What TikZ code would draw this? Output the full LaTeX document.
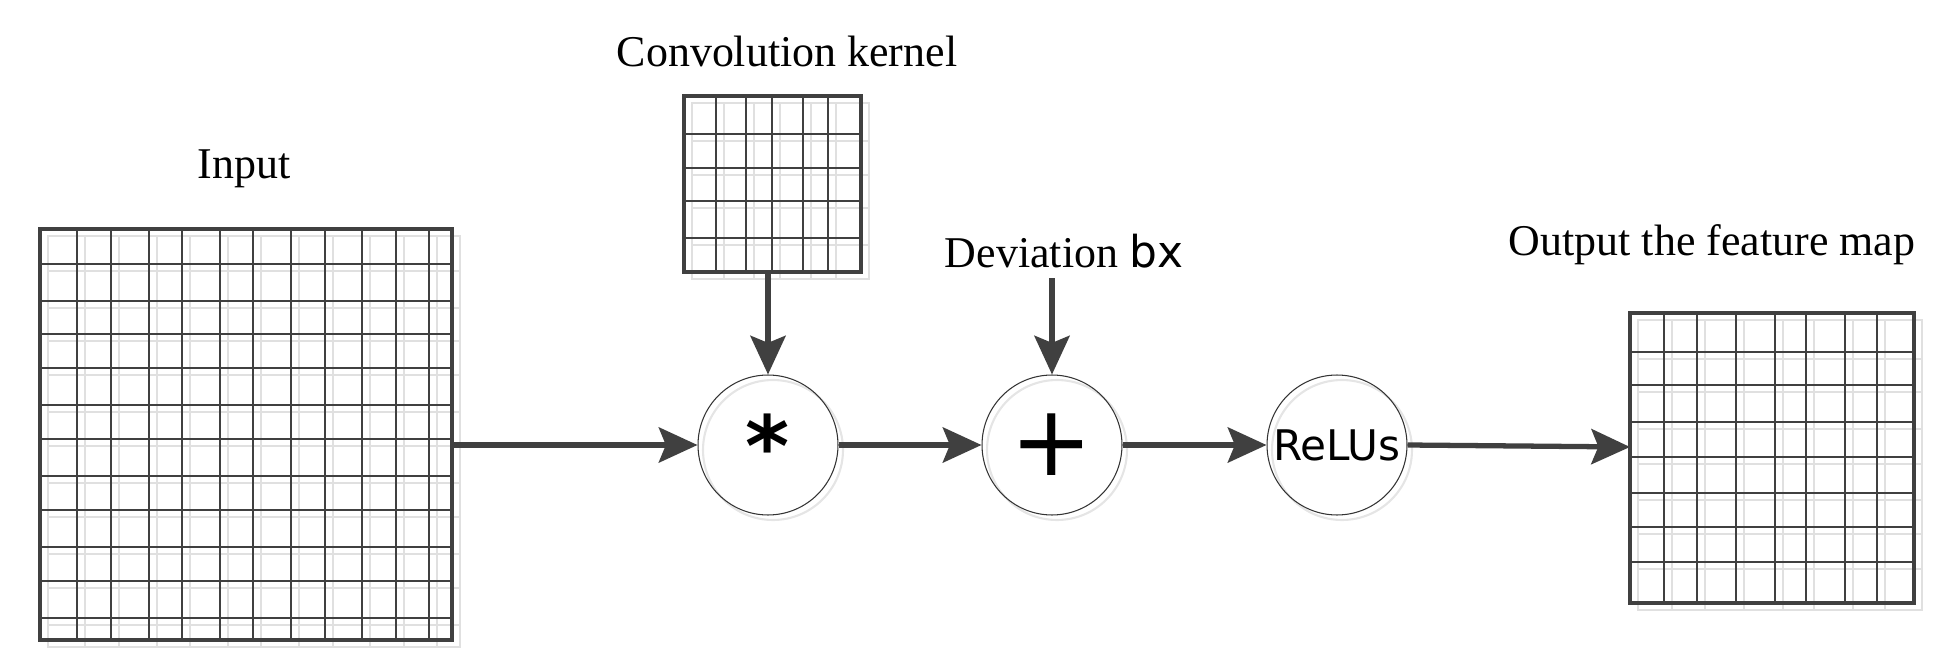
\documentclass[tikz,border=0pt]{standalone}
\usepackage{fontspec}
\setmainfont{Liberation Serif}
\newfontfamily\sansf{DejaVu Sans}
\usetikzlibrary{arrows.meta}
\begin{document}
\begin{tikzpicture}[x=0.02cm,y=-0.02cm,
  lbl/.style={font=\fontsize{25}{29}\selectfont,inner sep=0},
  op/.style={circle,draw=black!80,line width=0.6pt,minimum size=2.8cm,inner sep=0,font=\sansf\fontsize{24}{28}\selectfont},
  arr/.style={draw=black!75,line width=3pt,-{Stealth[length=22pt,width=20pt,inset=4pt]}},
  box/.style={rectangle,inner sep=0,draw=none},
  gl/.style={black!75,line width=1pt},
  sh/.style={black!12,line width=1.3pt}]
\useasboundingbox (0,0) rectangle (1958,669);
\newcommand{\mygrid}[6]{% x1,y1,x2,y2,xs,ys
  \begin{scope}[shift={(8,7)}]
    \foreach \v in {#5} \draw[sh] (\v,#2) -- (\v,#4);
    \foreach \h in {#6} \draw[sh] (#1,\h) -- (#3,\h);
    \draw[sh] (#1,#2) rectangle (#3,#4);
  \end{scope}
  \foreach \v in {#5} \draw[gl] (\v,#2) -- (\v,#4);
  \foreach \h in {#6} \draw[gl,line width=1.5pt] (#1,\h) -- (#3,\h);
  \draw[black!75,line width=1.8pt] (#1,#2) rectangle (#3,#4);
}
\mygrid{40}{229}{452}{640}{77,111,149,182,220,253,291,325,362,396,429}{264,301,334,368,405,439,476,510,547,581,618}
\mygrid{684}{96}{861}{272}{716,746,772,803,828}{134,168,201,238}
\mygrid{1630}{313}{1914}{603}{1664,1697,1736,1775,1806,1845,1877}{352,385,422,457,493,527,562}
\node[box,minimum width=412*0.02cm,minimum height=411*0.02cm] (in) at (246,434.5) {};
\node[box,minimum width=177*0.02cm,minimum height=176*0.02cm] (ker) at (772.5,184) {};
\node[box,minimum width=284*0.02cm,minimum height=290*0.02cm] (out) at (1772,458) {};
\node[lbl] (tin) at (244,169) {Input};
\node[lbl] (tker) at (787,51) {Convolution kernel};
\node[lbl] (tdev) at (1064,251) {Deviation {\sansf bx}};
\node[lbl] (tout) at (1712,245) {Output the feature map};
\foreach \x in {768,1052,1337} \draw[black!10,line width=1.2pt] (\x+5,450) circle[radius=1.4cm];
\node[op] (conv) at (768,445) {\fontsize{48}{48}\selectfont\bfseries *};
\node[op] (add) at (1052,445) {\fontsize{56}{56}\selectfont +};
\node[op] (relu) at (1337,445) {ReLUs};
\coordinate (devtop) at (1052,278);
\coordinate (outin) at (1630,447);
\draw[arr] (in.east |- conv) -- (conv.west);
\draw[arr] (ker.south -| conv) -- (conv.north);
\draw[arr] (devtop) -- (add.north);
\draw[arr] (conv) -- (add);
\draw[arr] (add) -- (relu);
\draw[arr] (relu.east) -- (outin);
\end{tikzpicture}
\end{document}
